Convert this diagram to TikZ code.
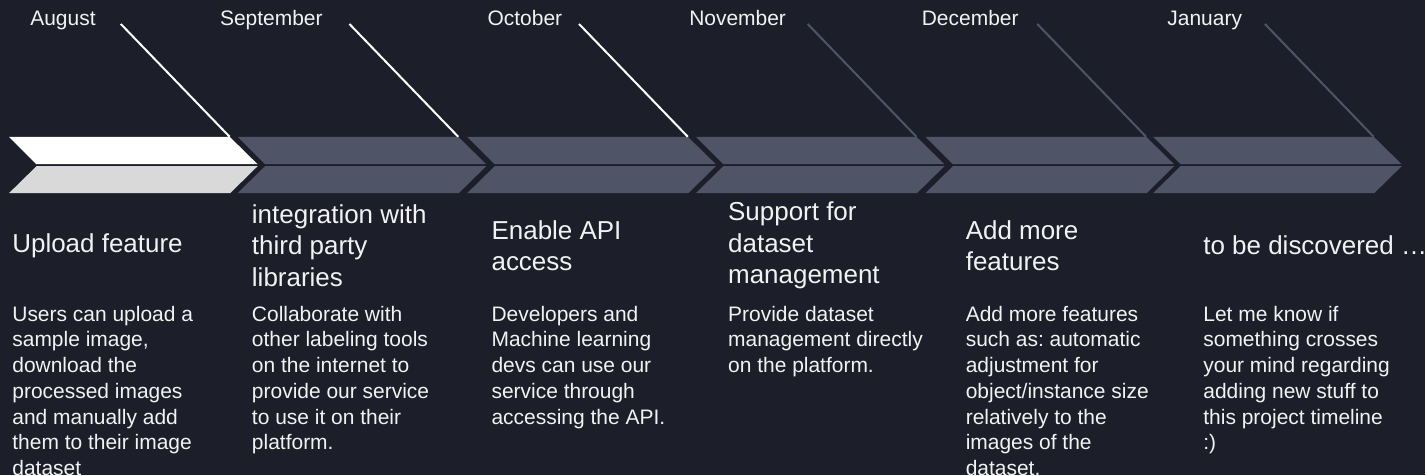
\documentclass[tikz,border=0pt]{standalone}
\usepackage{fontspec}
\setmainfont{Liberation Sans}
\frenchspacing
\definecolor{bgnavy}{HTML}{1C1F2A}
\definecolor{slate}{HTML}{4F5566}
\definecolor{paleg}{HTML}{D9D9D9}
\definecolor{txt}{HTML}{F2F2F2}
\tikzset{
  month/.style={anchor=base west, inner sep=0pt, text=txt, font=\fontsize{10.5}{12.6}\selectfont},
  heading/.style={anchor=west, inner sep=0pt, align=left, text=txt, font=\fontsize{13}{15.8}\selectfont},
  desc/.style={anchor=north west, inner sep=0pt, align=left, text=txt, font=\fontsize{10.5}{12.9}\selectfont},
  pointer/.style={line width=1pt},
}
\begin{document}
\begin{tikzpicture}[x=0.5pt, y=-0.5pt]
          \fill[bgnavy] (0,0) rectangle (1427,476);

          % chevrons
          \fill[white] (9,137) -- (230,137) -- (258,164.5) -- (36.5,164.5) -- cycle;
          \fill[paleg] (36.5,166.5) -- (258,166.5) -- (230.5,193.5) -- (9,193.5) -- cycle;
          \fill[slate] (238,137) -- (459,137) -- (487,164.5) -- (265.5,164.5) -- cycle;
          \fill[slate] (265.5,166.5) -- (487,166.5) -- (459.5,193.5) -- (238,193.5) -- cycle;
          \fill[slate] (468,137) -- (689,137) -- (717,164.5) -- (495.5,164.5) -- cycle;
          \fill[slate] (495.5,166.5) -- (717,166.5) -- (689.5,193.5) -- (468,193.5) -- cycle;
          \fill[slate] (697,137) -- (918,137) -- (946,164.5) -- (724.5,164.5) -- cycle;
          \fill[slate] (724.5,166.5) -- (946,166.5) -- (918.5,193.5) -- (697,193.5) -- cycle;
          \fill[slate] (927,137) -- (1148,137) -- (1176,164.5) -- (954.5,164.5) -- cycle;
          \fill[slate] (954.5,166.5) -- (1176,166.5) -- (1148.5,193.5) -- (927,193.5) -- cycle;
          \fill[slate] (1155,137) -- (1376,137) -- (1404,164.5) -- (1182.5,164.5) -- cycle;
          \fill[slate] (1182.5,166.5) -- (1404,166.5) -- (1376.5,193.5) -- (1155,193.5) -- cycle;

          \coordinate (augc) at (230,137);
          \coordinate (sepc) at (459,137);
          \coordinate (octc) at (689,137);
          \coordinate (novc) at (918,137);
          \coordinate (decc) at (1148,137);
          \coordinate (janc) at (1376,137);

          % months
          \node[month] (aug) at (30,26) {August};
          \node[month] (sep) at (220,26) {September};
          \node[month] (oct) at (488,26) {October};
          \node[month] (nov) at (690,26) {November};
          \node[month] (dec) at (923,26) {December};
          \node[month] (jan) at (1169,26) {January};

          \coordinate (augs) at (121,24);
          \coordinate (seps) at (350,24);
          \coordinate (octs) at (580,24);
          \coordinate (novs) at (809,24);
          \coordinate (decs) at (1039,24);
          \coordinate (jans) at (1267,24);

          \draw[pointer, white] (augs) -- (augc);
          \draw[pointer, white] (seps) -- (sepc);
          \draw[pointer, white] (octs) -- (octc);
          \draw[pointer, slate] (novs) -- (novc);
          \draw[pointer, slate] (decs) -- (decc);
          \draw[pointer, slate] (jans) -- (janc);

          % headings
          \node[heading] (upload) at (12,246) {Upload feature};
          \node[heading] (integ) at (252,246) {integration with\\third party\\libraries};
          \node[heading] (api) at (492,246) {Enable API\\access};
          \node[heading] (manage) at (729,246) {Support for\\dataset\\management};
          \node[heading] (more) at (967,246) {Add more\\features};
          \node[heading] (tbd) at (1205,246) {to be discovered …};

          % descriptions
          \node[desc] (uploadtxt) at (12,306) {Users can upload a\\sample image,\\download the\\processed images\\and manually add\\them to their image\\dataset};
          \node[desc] (integtxt) at (252,306) {Collaborate with\\other labeling tools\\on the internet to\\provide our service\\to use it on their\\platform.};
          \node[desc] (apitxt) at (492,306) {Developers and\\Machine learning\\devs can use our\\service through\\accessing the API.};
          \node[desc] (managetxt) at (729,306) {Provide dataset\\management directly\\on the platform.};
          \node[desc] (moretxt) at (967,306) {Add more features\\such as: automatic\\adjustment for\\object/instance size\\relatively to the\\images of the\\dataset.};
          \node[desc] (tbdtxt) at (1205,306) {Let me know if\\something crosses\\your mind regarding\\adding new stuff to\\this project timeline\\:)};
        \end{tikzpicture}
\end{document}
